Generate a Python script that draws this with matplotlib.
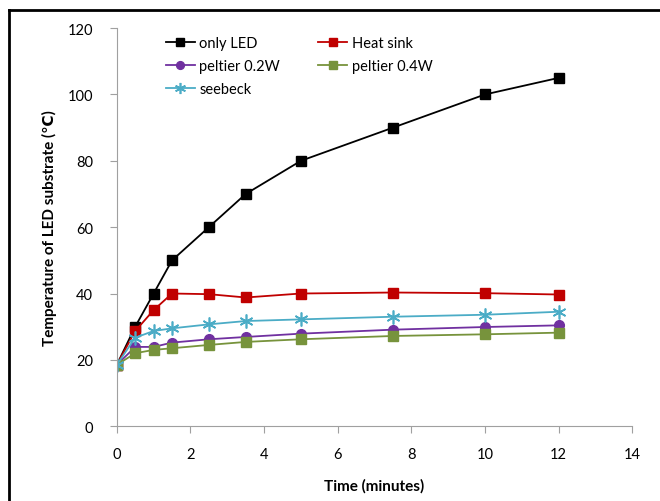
import matplotlib
matplotlib.use('Agg')
import matplotlib.pyplot as plt
from matplotlib.lines import Line2D

plt.rcParams['font.family'] = ['Lato', 'DejaVu Sans']

# -- data --
time_min = [0, 0.5, 1, 1.5, 2.5, 3.5, 5, 7.5, 10, 12]
only_led = [18.5, 30, 40, 50, 60, 70, 80, 90, 100, 105]
heat_sink = [18.5, 28.7, 35, 40, 39.8, 38.8, 40, 40.3, 40.1, 39.7]
peltier_02 = [18.5, 23.9, 23.9, 25.2, 26.2, 26.9, 27.9, 29.1, 29.9, 30.4]
peltier_04 = [18.5, 22, 23, 23.5, 24.5, 25.4, 26.2, 27.2, 27.7, 28.2]
seebeck = [18.5, 26.7, 28.7, 29.5, 30.7, 31.7, 32.2, 33.0, 33.6, 34.5]

x_ticks = [0, 2, 4, 6, 8, 10, 12, 14]
y_ticks = [0, 20, 40, 60, 80, 100, 120]

fig = plt.figure(figsize=(6.6, 5.02), dpi=100)
ax = fig.add_axes([0.177, 0.149, 0.781, 0.793])

h_led, = ax.plot(time_min, only_led, color='black', marker='s', ms=7, lw=1.3, label='only LED')
h_hs, = ax.plot(time_min, heat_sink, color='#C00000', marker='s', ms=7, lw=1.3, label='Heat sink')
h_p2, = ax.plot(time_min, peltier_02, color='#7030A0', marker='o', ms=7, lw=1.3, label='peltier 0.2W')
h_p4, = ax.plot(time_min, peltier_04, color='#77933C', marker='s', ms=7, lw=1.3, label='peltier 0.4W')
h_sb, = ax.plot(time_min, seebeck, color='#4BACC6', marker=(6, 2, 0), ms=10, mew=1.2, lw=1.3, label='seebeck')

ax.set_xlim(0, 14)
ax.set_ylim(0, 120)
ax.set_xticks(x_ticks)
ax.set_yticks(y_ticks)
ax.spines['top'].set_visible(False)
ax.spines['right'].set_visible(False)
for s in ['left', 'bottom']:
    ax.spines[s].set_color('#A0A0A0')
ax.tick_params(colors='#A0A0A0', labelcolor='black', labelsize=10.5, length=5, direction='out')
ax.tick_params(axis='x', pad=10)
ax.tick_params(axis='y', pad=12)

ax.set_xlabel('Time (minutes)', fontweight='bold', fontsize=11, labelpad=12)
ax.set_ylabel('Temperature of LED substrate (\u2103)', fontweight='bold', fontsize=11, labelpad=8)

# row-major order like the original (matplotlib fills legend columns first)
handles = [h_led, h_p2, h_sb, h_hs, h_p4]
leg = ax.legend(handles, [h.get_label() for h in handles], ncol=2, loc='upper left',
                bbox_to_anchor=(0.095, 0.98), frameon=False, borderpad=0, borderaxespad=0,
                fontsize=10.5, handlelength=2.0, handletextpad=0.3, columnspacing=2.6,
                labelspacing=0.62, markerscale=0.8)

# figure border (top and left edges visible)
fig.add_artist(Line2D([0.0136, 0.0136], [0, 0.978], color='black', lw=2, transform=fig.transFigure))
fig.add_artist(Line2D([0.0136, 1.0], [0.978, 0.978], color='black', lw=2, transform=fig.transFigure))

fig.savefig('out.png', dpi=100)
